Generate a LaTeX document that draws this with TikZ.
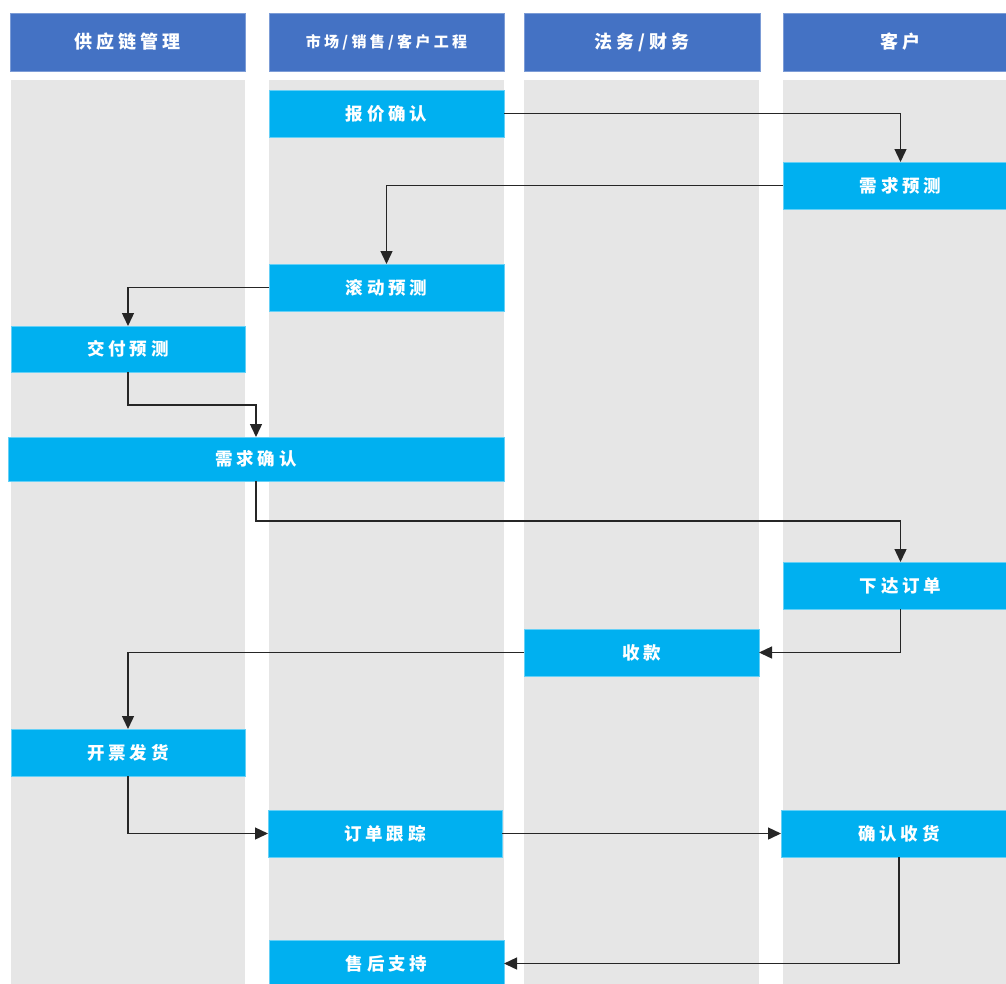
\documentclass[tikz,border=0pt]{standalone}
\usepackage{fontspec}
\usetikzlibrary{arrows.meta}
\newfontfamily\cjk{Noto Sans CJK SC}[LetterSpace=22]
\definecolor{hdrblue}{HTML}{4472C4}
\definecolor{procblue}{HTML}{00B0F0}
\definecolor{lanegray}{HTML}{E6E6E6}
\definecolor{linegray}{HTML}{262626}
\tikzset{
  lane/.style={fill=lanegray, draw=none, inner sep=0pt, outer sep=0pt, minimum height=920pt, anchor=north},
  hdr/.style={fill=hdrblue, draw=hdrblue!70!white, line width=0.6pt, text=white, inner sep=0pt, outer sep=0pt, minimum height=58pt, font=\cjk\bfseries\fontsize{18}{18}\selectfont},
  proc/.style={fill=procblue, draw=procblue!60!white, line width=0.6pt, text=white, inner sep=0pt, outer sep=0pt, minimum height=47pt, minimum width=235pt, font=\cjk\bfseries\fontsize{17.5}{17.5}\selectfont},
  conn/.style={draw=linegray, line width=1.4pt, -{Triangle[length=13pt,width=12pt]}}
}
\begin{document}
\begin{tikzpicture}[x=1pt, y=-1pt]
\useasboundingbox (0,0) rectangle (1006,983);
\clip (0,0) rectangle (1006,983);
% lanes
\node[lane, minimum width=234pt] (l1) at (128,80) {};
\node[lane, minimum width=235pt] (l2) at (386.5,80) {};
\node[lane, minimum width=235pt] (l3) at (641.5,80) {};
\node[lane, minimum width=235pt] (l4) at (900.5,80) {};
% headers
\node[hdr, minimum width=235pt] (h1) at (127.5,42) {供应链管理};
\node[hdr, minimum width=235pt, font=\cjk\bfseries\fontsize{15}{15}\selectfont] (h2) at (386.5,42) {市场/销售/客户工程};
\node[hdr, minimum width=236pt] (h3) at (642,42) {法务/财务};
\node[hdr, minimum width=235pt] (h4) at (900.5,42) {客户};
% process boxes
\node[proc] (quote) at (386.5,113.5) {报价确认};
\node[proc] (demandF) at (900.5,185.5) {需求预测};
\node[proc] (rolling) at (386.5,287.5) {滚动预测};
\node[proc, minimum width=234pt, minimum height=46pt] (delivF) at (128,349) {交付预测};
\node[proc, minimum width=496pt, minimum height=44pt] (demandC) at (256,459) {需求确认};
\node[proc] (order) at (900.5,585.5) {下达订单};
\node[proc] (pay) at (641.5,652.5) {收款};
\node[proc, minimum width=234pt] (invoice) at (128,752.5) {开票发货};
\node[proc, minimum width=234pt] (track) at (385,833.5) {订单跟踪};
\node[proc, minimum width=236pt] (receive) at (899,833.5) {确认收货};
\node[proc] (after) at (386.5,963.5) {售后支持};
% connectors
\draw[conn] (quote.east) -| (demandF.north);
\draw[conn] (demandF.west) -| (rolling.north);
\draw[conn] (rolling.west) -| (delivF.north);
\draw[conn] (delivF.south) -- ++(0,33) -| (demandC.north);
\draw[conn] (demandC.south) -- ++(0,40) -| (order.north);
\draw[conn] (order.south) |- (pay.east);
\draw[conn] (pay.west) -| (invoice.north);
\draw[conn] (invoice.south) |- (track.west);
\draw[conn] (track.east) -- (receive.west);
\draw[conn] (receive.south) |- (after.east);
\end{tikzpicture}
\end{document}
